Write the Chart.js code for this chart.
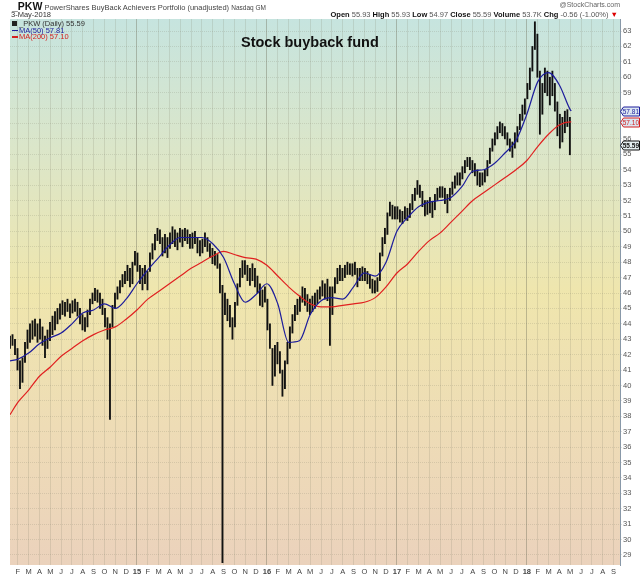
<!DOCTYPE html>
<html>
<head>
<meta charset="utf-8">
<script src="https://cdn.jsdelivr.net/npm/chart.js@4"></script>
<style>
  body { margin: 0; background: #fff; font-family: "Liberation Sans", Arial, sans-serif; }
  #wrap { position: relative; width: 640px; height: 576px; overflow: hidden; }
  #chart { position: absolute; left: 0; top: 0; }
  .t { position: absolute; white-space: nowrap; line-height: 1; color: #555; font-size: 7.5px; }
  .t b { color: #111; }
  .box { display: inline-block; width: 5px; height: 5px; background: #222; margin-right: 2px; }
  .dash { display: inline-block; width: 6px; height: 1.5px; vertical-align: middle; margin-right: 1px; }
</style>
</head>
<body>
<div id="wrap">
  <canvas id="chart" width="640" height="576"></canvas>
  <div class="t" style="left:12px;top:1px;font-size:7.5px;color:#444"><b style="font-size:10.5px">_PKW</b> PowerShares BuyBack Achievers Portfolio (unadjusted) <span style="font-size:6.5px">Nasdaq GM</span></div>
  <div class="t" style="left:11px;top:11px;color:#333">3-May-2018</div>
  <div class="t" style="right:20px;top:1px;font-size:7px;color:#666">@StockCharts.com</div>
  <div class="t" id="quote" style="right:22px;top:11px"></div>
  <div class="t" id="legPrice" style="left:12px;top:20px;color:#333"></div>
  <div class="t" id="legMa50" style="left:12px;top:26.5px;color:#1c1c9c"></div>
  <div class="t" id="legMa200" style="left:12px;top:33px;color:#d42020"></div>
  <div class="t" style="left:241px;top:35px;font-size:14.5px;font-weight:bold;color:#111">Stock buyback fund</div>
</div>
<script>
// x values are months since Jan 2014 (0 = 1 Jan 2014)
const monthLetters = ['J', 'F', 'M', 'A', 'M', 'J', 'J', 'A', 'S', 'O', 'N', 'D'];
const yearLabels = ['14', '15', '16', '17', '18'];
const tickMonths = [];
for (let m = 1; m <= 56; m++) tickMonths.push(m);

const firstWeek = 0.28;     // week of 9 Jan 2014
const weekStep = 12 / 52;

// weekly low / high, one line per month
const weekLow = [
  42.4, 42.6, 42.0, 41.0,
  39.8, 40.2, 41.5, 42.4,
  42.8, 43.0, 43.2, 42.8,
  43.0, 42.6, 41.8, 42.4, 42.9,
  43.3, 43.6, 44.0, 44.3,
  44.6, 44.5, 44.8, 44.4,
  44.7, 44.8, 44.5, 44.0, 43.6,
  43.5, 43.8, 44.6, 45.3,
  45.5, 45.4, 45.0, 44.6,
  43.8, 43.0, 37.8, 43.8, 45.0,
  45.6, 46.0, 46.4, 46.6,
  46.8, 46.4, 46.6, 47.8,
  // 2015
  47.4, 46.6, 46.2, 46.6, 46.2,
  47.4, 48.2, 48.8, 49.4,
  49.2, 48.4, 48.6, 48.3,
  48.9, 49.2, 49.0, 48.8, 49.3,
  49.0, 49.4, 49.2, 48.9,
  48.9, 49.2, 48.6, 48.4,
  48.6, 49.0, 48.7, 48.3, 47.9,
  47.8, 47.6, 46.0, 28.5,
  44.6, 44.2, 43.8, 43.0,
  43.8, 45.2, 46.4, 47.0, 47.2,
  46.8, 46.5, 46.8, 46.4,
  46.0, 45.2, 45.1, 45.4,
  // 2016
  43.6, 42.4, 40.0, 40.6, 41.4,
  40.8, 39.3, 39.8, 41.4,
  42.4, 43.4, 44.2, 44.6,
  44.8, 45.4, 45.2, 44.8, 44.6,
  44.8, 45.0, 45.3, 45.6,
  45.8, 45.6, 45.5, 42.6,
  44.6, 46.0, 46.6, 46.8, 46.8,
  47.0, 47.2, 47.2, 47.1,
  47.2, 46.4, 46.8, 46.8,
  46.8, 46.6, 46.3, 46.0, 46.0,
  46.1, 46.8, 48.4, 49.2,
  49.8, 51.0, 50.8, 50.8,
  // 2017
  50.8, 50.6, 50.5, 50.8, 50.7,
  50.9, 51.4, 52.0, 52.4,
  52.2, 51.6, 51.0, 51.1,
  51.2, 50.9, 51.4, 52.0, 52.2,
  52.2, 51.8, 51.2, 52.0,
  52.4, 52.8, 53.0, 53.0,
  53.4, 53.8, 54.2, 54.0, 53.8,
  53.6, 53.0, 52.9, 53.0,
  53.2, 53.6, 54.4, 55.2,
  55.6, 56.0, 56.4, 56.2, 56.0,
  55.6, 55.2, 54.8, 55.4,
  55.8, 56.6, 57.2, 57.6,
  // 2018
  58.6, 59.2, 60.4, 61.8,
  60.0, 56.3, 57.6, 59.0, 58.8,
  58.2, 58.8, 57.8, 56.2,
  55.4, 55.8, 56.4, 56.8, 54.97
];
const weekHigh = [
  43.2, 43.3, 43.0, 42.4,
  41.6, 41.8, 42.8, 43.6,
  44.0, 44.2, 44.3, 44.0,
  44.3, 43.8, 43.2, 43.6, 44.1,
  44.5, 44.8, 45.0, 45.3,
  45.5, 45.4, 45.6, 45.3,
  45.5, 45.6, 45.4, 45.0, 44.6,
  44.4, 44.9, 45.6, 46.0,
  46.3, 46.2, 46.0, 45.6,
  45.0, 44.4, 44.0, 45.2, 46.0,
  46.4, 46.8, 47.2, 47.4,
  47.8, 47.6, 48.0, 48.7,
  // 2015
  48.6, 47.8, 47.6, 47.8, 47.4,
  48.6, 49.2, 49.8, 50.2,
  50.1, 49.6, 49.8, 49.6,
  49.9, 50.3, 50.1, 49.9, 50.2,
  50.1, 50.2, 50.1, 49.8,
  49.9, 50.0, 49.6, 49.4,
  49.5, 49.9, 49.6, 49.2, 48.9,
  48.7, 48.5, 47.9, 46.5,
  46.0, 45.6, 45.2, 44.4,
  45.4, 46.6, 47.6, 48.1, 48.1,
  47.8, 47.6, 47.9, 47.6,
  47.1, 46.6, 46.2, 46.4,
  // 2016
  45.6, 44.0, 42.4, 42.6, 42.8,
  42.2, 41.0, 41.6, 42.8,
  43.8, 44.6, 45.2, 45.6,
  45.8, 46.4, 46.3, 45.9, 45.6,
  45.8, 46.0, 46.2, 46.4,
  46.8, 46.6, 46.9, 46.4,
  46.4, 47.0, 47.6, 47.8, 47.6,
  47.8, 48.0, 47.9, 47.9,
  48.0, 47.6, 47.6, 47.7,
  47.6, 47.4, 47.2, 46.9, 46.8,
  47.0, 48.6, 49.6, 50.2,
  51.2, 51.9, 51.7, 51.6,
  // 2017
  51.6, 51.4, 51.3, 51.6, 51.5,
  51.8, 52.4, 52.8, 53.3,
  53.0, 52.6, 52.0, 52.0,
  52.2, 51.9, 52.4, 52.8, 52.9,
  52.9, 52.8, 52.4, 52.8,
  53.2, 53.6, 53.8, 53.8,
  54.2, 54.6, 54.8, 54.8, 54.6,
  54.4, 54.0, 53.8, 53.8,
  54.0, 54.6, 55.4, 56.0,
  56.4, 56.8, 57.1, 57.0, 56.8,
  56.4, 56.0, 55.8, 56.4,
  56.8, 57.6, 58.2, 58.6,
  // 2018
  59.6, 60.6, 62.0, 63.6,
  62.8, 60.4, 59.6, 60.6, 60.4,
  60.0, 60.4, 59.6, 58.4,
  57.6, 57.4, 57.8, 57.9, 57.4
];

// moving averages sampled at month starts
const maMonths = [0.28, 1, 2, 3, 4, 5, 6, 7, 8, 9, 10, 11, 12, 13, 14, 15, 16, 17, 18, 19,
  20, 21, 22, 23, 24, 25, 26, 27, 28, 29, 30, 31, 32, 33, 34, 35, 36, 37, 38, 39,
  40, 41, 42, 43, 44, 45, 46, 47, 48, 49, 50, 51, 52, 52.1];
const ma50 = [41.6, 41.7, 42.1, 42.7, 43.1, 43.4, 44.0, 44.7, 44.9, 45.3,
  45.0, 45.6, 46.6, 47.5, 48.3, 49.1, 49.6, 49.6, 49.6, 49.2,
  48.3, 46.6, 45.4, 45.9, 46.6, 45.3, 42.8, 42.9, 44.6, 45.5,
  45.7, 45.6, 46.4, 47.3, 47.1, 48.0, 50.0, 50.9, 51.6, 51.9,
  52.0, 52.2, 52.9, 53.9, 54.0, 54.4, 55.1, 55.9, 57.6, 59.7,
  60.3, 59.5, 57.9, 57.81];
const ma200 = [38.1, 38.9, 39.7, 40.6, 41.2, 41.9, 42.4, 42.9, 43.3, 43.6,
  43.8, 44.3, 44.9, 45.6, 46.1, 46.6, 47.1, 47.6, 48.0, 48.4,
  48.7, 48.5, 48.3, 48.2, 47.8, 47.1, 46.4, 45.8, 45.3, 45.1,
  45.1, 45.2, 45.3, 45.4, 45.7, 46.4, 47.3, 47.9, 48.7, 49.4,
  49.9, 50.6, 51.3, 52.0, 52.5, 53.0, 53.5, 54.0, 54.6, 55.5,
  56.3, 56.9, 57.1, 57.10];

const lastQuote = { open: 55.93, high: 55.93, low: 54.97, close: 55.59, volume: '53.7K', chg: -0.56, chgPct: -1.00 };

// header and legend texts
document.getElementById('quote').innerHTML =
  '<b>Open</b> ' + lastQuote.open.toFixed(2) + ' <b>High</b> ' + lastQuote.high.toFixed(2) +
  ' <b>Low</b> ' + lastQuote.low.toFixed(2) + ' <b>Close</b> ' + lastQuote.close.toFixed(2) +
  ' <b>Volume</b> ' + lastQuote.volume + ' <b>Chg</b> ' + lastQuote.chg.toFixed(2) +
  ' (' + lastQuote.chgPct.toFixed(2) + '%) <span style="color:#d00">&#9660;</span>';
document.getElementById('legPrice').innerHTML =
  '<span class="box"></span>_PKW (Daily) ' + lastQuote.close.toFixed(2);
document.getElementById('legMa50').innerHTML =
  '<span class="dash" style="background:#1c1c9c"></span>MA(50) ' + ma50[ma50.length - 1].toFixed(2);
document.getElementById('legMa200').innerHTML =
  '<span class="dash" style="background:#d42020"></span>MA(200) ' + ma200[ma200.length - 1].toFixed(2);

const priceBars = weekLow.map((lo, i) => ({ x: firstWeek + i * weekStep, y: [lo, weekHigh[i]] }));

const tags = [
  { value: ma50[ma50.length - 1], color: '#1c1c9c', fill: '#dbe6f2', bold: false },
  { value: ma200[ma200.length - 1], color: '#d42020', fill: '#dbe6f2', bold: false },
  { value: lastQuote.close, color: '#111', fill: '#e4eef0', bold: true }
];

const backdrop = {
  id: 'backdrop',
  beforeDraw(chart) {
    const { ctx, chartArea: a } = chart;
    ctx.save();
    ctx.fillStyle = '#fff';
    ctx.fillRect(0, 0, chart.width, chart.height);
    const g = ctx.createLinearGradient(0, a.top, 0, a.bottom);
    g.addColorStop(0, '#c6e4df');
    g.addColorStop(0.25, '#dce6c8');
    g.addColorStop(0.5, '#efe6ad');
    g.addColorStop(0.75, '#eedcb6');
    g.addColorStop(1, '#ebd2bc');
    ctx.fillStyle = g;
    ctx.fillRect(a.left, a.top, a.right - a.left, a.bottom - a.top);
    ctx.restore();
  }
};

const priceTags = {
  id: 'priceTags',
  afterDraw(chart) {
    const { ctx } = chart;
    const y = chart.scales.y;
    const x0 = chart.chartArea.right;
    ctx.save();
    tags.forEach((t) => {
      const py = Math.round(y.getPixelForValue(t.value)) + 0.5;
      ctx.beginPath();
      ctx.moveTo(x0 + 0.5, py);
      ctx.lineTo(x0 + 3.5, py - 4.5);
      ctx.lineTo(639.5, py - 4.5);
      ctx.lineTo(639.5, py + 4.5);
      ctx.lineTo(x0 + 3.5, py + 4.5);
      ctx.closePath();
      ctx.fillStyle = t.fill;
      ctx.fill();
      ctx.strokeStyle = t.color;
      ctx.lineWidth = 1;
      ctx.stroke();
      ctx.fillStyle = t.color;
      ctx.font = (t.bold ? 'bold ' : '') + '6.5px "Liberation Sans", Arial, sans-serif';
      ctx.textBaseline = 'middle';
      ctx.textAlign = 'right';
      ctx.fillText(t.value.toFixed(2), 639, py + 0.5);
    });
    ctx.restore();
  }
};

const isYear = (v) => v % 12 === 0;

new Chart(document.getElementById('chart'), {
  type: 'bar',
  data: {
    datasets: [
      {
        type: 'line',
        label: 'MA(50)',
        data: maMonths.map((m, i) => ({ x: m, y: ma50[i] })),
        borderColor: '#1c1c9c',
        borderWidth: 1.2,
        pointRadius: 0,
        cubicInterpolationMode: 'monotone',
        order: 1,
      },
      {
        type: 'line',
        label: 'MA(200)',
        data: maMonths.map((m, i) => ({ x: m, y: ma200[i] })),
        borderColor: '#e02020',
        borderWidth: 1.2,
        pointRadius: 0,
        cubicInterpolationMode: 'monotone',
        order: 1,
      },
      {
        type: 'bar',
        label: '_PKW (Daily)',
        data: priceBars,
        backgroundColor: '#111',
        borderWidth: 0,
        barThickness: 1.2,
        grouped: false,
        order: 2,
      },
    ],
  },
  options: {
    responsive: false,
    animation: false,
    layout: { padding: { left: 10, top: 19, right: 0, bottom: 0 } },
    plugins: { legend: { display: false }, tooltip: { enabled: false } },
    scales: {
      x: {
        type: 'linear',
        min: 0.28,
        max: 56.6,
        offset: false,
        border: { display: false },
        grid: {
          offset: false,
          drawTicks: false,
          color: (ctx) => (ctx.tick && isYear(ctx.tick.value) ? 'rgba(110,110,90,0.4)' : 'rgba(120,120,100,0.18)'),
        },
        afterBuildTicks: (s) => { s.ticks = tickMonths.map((v) => ({ value: v })); },
        afterFit: (s) => { s.height = 11; },
        ticks: {
          autoSkip: false,
          maxRotation: 0,
          padding: 2,
          color: '#444',
          font: (ctx) => ({
            size: 7.5,
            family: '"Liberation Sans", Arial, sans-serif',
            weight: ctx.tick && isYear(ctx.tick.value) ? 'bold' : 'normal',
          }),
          callback: (v) => (isYear(v) ? yearLabels[v / 12] : monthLetters[v % 12]),
        },
      },
      y: {
        position: 'right',
        min: 28.35,
        max: 63.78,
        border: { display: true, color: '#8898a8', dash: [1, 1] },
        grid: { color: 'rgba(120,120,100,0.2)', tickLength: 2 },
        afterBuildTicks: (s) => {
          const t = [];
          for (let v = 29; v <= 63; v++) t.push({ value: v });
          s.ticks = t;
        },
        afterFit: (s) => { s.width = 20; },
        ticks: {
          padding: 1,
          color: '#555',
          font: { size: 7.5, family: '"Liberation Sans", Arial, sans-serif' },
          callback: (v) => (tags.some((t) => Math.abs(t.value - v) < 0.3) ? '' : v),
        },
      },
    },
  },
  plugins: [backdrop, priceTags],
});
</script>
</body>
</html>
